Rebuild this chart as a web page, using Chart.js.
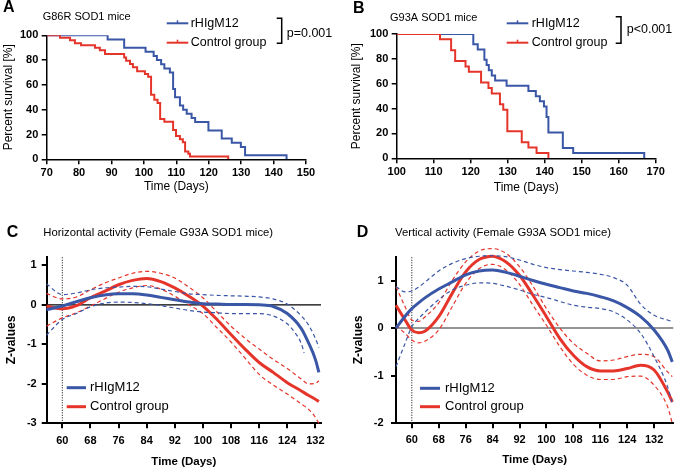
<!DOCTYPE html>
<html>
<head>
<meta charset="utf-8">
<script src="https://cdn.jsdelivr.net/npm/chart.js@4.4.1/dist/chart.umd.min.js"></script>
<style>
  html, body { margin: 0; padding: 0; background: #fff; }
  #fig { position: relative; width: 675px; height: 470px; overflow: hidden; }
  canvas { position: absolute; }
</style>
</head>
<body>
<div id="fig">
  <canvas id="chartA" width="337" height="200" style="left:0;top:0"></canvas>
  <canvas id="chartB" width="338" height="200" style="left:337px;top:0"></canvas>
  <canvas id="chartC" width="337" height="265" style="left:0;top:205px"></canvas>
  <canvas id="chartD" width="338" height="265" style="left:337px;top:205px"></canvas>
</div>
<script>
// Panel A - G86R survival (days, percent)
const aBlueDays = [70, 88.8, 93.9, 100.5, 103, 104, 105.3, 106.3, 108, 109, 109.6, 111.1, 112.1, 113.2, 114.7, 115.8, 119.9, 124, 127.1, 129.9, 131.2, 144];
const aBlueSurv = [100, 96.7, 90, 86.7, 83.3, 80, 76.7, 73.3, 70, 56.7, 50, 43.3, 40, 36.7, 33.3, 30, 23.3, 16.7, 13.3, 10, 3.3, 0];
const aRedDays = [70, 74.1, 77.2, 78.7, 80.6, 84.9, 86.4, 88, 93.9, 94.5, 95.7, 96.6, 97.9, 100.3, 101.3, 102.2, 103.2, 104.2, 105, 106.3, 109, 109.9, 111.1, 112, 112.7, 113.7, 114.2, 126];
const aRedSurv = [100, 98, 96, 93.5, 92, 90, 88, 85, 82, 79.5, 76.8, 74.2, 71, 68.8, 66.6, 52, 48, 45.5, 32.5, 30.3, 23.6, 18.8, 16.1, 13.7, 6.2, 4.5, 2.2, 0];
const aXTicks = [70, 80, 90, 100, 110, 120, 130, 140, 150];

// Panel B - G93A survival
const bBlueDays = [100, 120.7, 121.9, 123.7, 124.3, 124.9, 125.7, 126.6, 129.7, 135.6, 137.6, 138.7, 139.8, 140.5, 141, 144.9, 147.7, 166.9];
const bBlueSurv = [100, 91.7, 87.5, 79.2, 75, 70.8, 66.7, 62.5, 58.3, 54.2, 50, 45.8, 41.7, 33.3, 20.8, 8.3, 4.2, 0];
const bRedDays = [100, 111.7, 114.7, 115.8, 118.6, 119.5, 122.8, 124.8, 125.7, 127.9, 128.8, 129.9, 133.8, 135.6, 137.8, 141];
const bRedSurv = [100, 95.7, 87, 78.3, 73.9, 69.6, 60.9, 56.5, 52.2, 43.5, 39.1, 21.7, 13, 8.7, 4.3, 0];
const bXTicks = [100, 110, 120, 130, 140, 150, 160, 170];
const survTicks = [0, 20, 40, 60, 80, 100];

// Panel C - horizontal activity z-values
const cDays = [55.5, 60, 64, 68, 72, 76, 80, 84, 88, 92, 96, 100, 104, 108, 112, 116, 120, 124, 128, 130, 132, 133];
const cBlue = [-0.12, -0.03, 0.08, 0.18, 0.25, 0.28, 0.28, 0.25, 0.19, 0.13, 0.07, 0.03, 0.02, 0.01, 0.01, 0, -0.04, -0.22, -0.6, -0.95, -1.38, -1.71];
const cBlueHi = [0.53, 0.26, 0.3, 0.38, 0.43, 0.45, 0.47, 0.46, 0.4, 0.34, 0.28, 0.26, 0.24, 0.23, 0.22, 0.2, 0.15, 0.02, -0.28, -0.5, -0.85, -1.08];
const cBlueLoDays = [55.5, 60, 64, 68, 72, 76, 80, 84, 88, 92, 96, 100, 104, 108, 112, 116, 120, 124, 126, 128, 128.8];
const cBlueLo = [-0.77, -0.37, -0.22, -0.05, 0.04, 0.07, 0.06, 0.03, -0.02, -0.08, -0.14, -0.18, -0.2, -0.22, -0.22, -0.22, -0.28, -0.48, -0.68, -0.98, -1.22];
const cRed = [-0.03, -0.1, -0.02, 0.18, 0.34, 0.51, 0.62, 0.67, 0.59, 0.43, 0.22, -0.03, -0.37, -0.75, -1.12, -1.46, -1.71, -1.97, -2.18, -2.29, -2.39, -2.45];
const cRedHi = [0.29, 0.15, 0.2, 0.38, 0.55, 0.68, 0.8, 0.85, 0.8, 0.68, 0.45, 0.18, -0.18, -0.54, -0.85, -1.12, -1.38, -1.61, -1.88, -2.0, -1.99, -1.92];
const cRedLo = [-0.54, -0.33, -0.2, -0.03, 0.15, 0.32, 0.43, 0.49, 0.4, 0.22, 0.0, -0.22, -0.58, -0.94, -1.35, -1.76, -2.03, -2.26, -2.51, -2.64, -2.85, -3.0];
const cYTicks = [-3, -2, -1, 0, 1];

// Panel D - vertical activity z-values
const dDays = [55.3, 58, 60, 62, 64, 68, 72, 76, 80, 84, 88, 92, 96, 100, 104, 108, 112, 116, 120, 124, 128, 132, 136, 137.4];
const dBlue = [0, 0.25, 0.41, 0.53, 0.64, 0.82, 0.97, 1.12, 1.2, 1.22, 1.17, 1.09, 1.0, 0.92, 0.85, 0.78, 0.73, 0.66, 0.57, 0.43, 0.24, -0.04, -0.46, -0.71];
const dBlueHi = [0.87, 0.76, 0.78, 0.86, 0.97, 1.2, 1.36, 1.46, 1.51, 1.52, 1.5, 1.43, 1.34, 1.27, 1.23, 1.2, 1.17, 1.13, 1.06, 0.9, 0.5, 0.27, 0.17, 0.14];
const dBlueLo = [-0.81, -0.32, 0.03, 0.2, 0.34, 0.6, 0.8, 0.9, 0.95, 0.94, 0.88, 0.8, 0.71, 0.64, 0.56, 0.48, 0.44, 0.41, 0.34, 0.17, -0.11, -0.6, -1.23, -1.58];
const dRed = [0.48, 0.17, -0.04, -0.1, -0.06, 0.24, 0.73, 1.18, 1.44, 1.51, 1.39, 1.11, 0.69, 0.24, -0.22, -0.57, -0.81, -0.9, -0.9, -0.85, -0.78, -0.88, -1.34, -1.55];
const dRedHi = [0.87, 0.45, 0.17, 0.14, 0.24, 0.53, 1.0, 1.39, 1.62, 1.67, 1.57, 1.29, 0.88, 0.41, 0.0, -0.32, -0.53, -0.69, -0.67, -0.6, -0.55, -0.6, -0.92, -1.02];
const dRedLo = [0.06, -0.11, -0.25, -0.31, -0.27, -0.04, 0.45, 0.94, 1.25, 1.34, 1.22, 0.92, 0.48, 0.06, -0.39, -0.76, -0.99, -1.08, -1.08, -1.02, -1.01, -1.2, -1.65, -2.0];
const dYTicks = [-2, -1, 0, 1];

const zXTicks = [60, 68, 76, 84, 92, 100, 108, 116, 124, 132];

const FONT = '"Liberation Sans", Arial, Helvetica, sans-serif';
const BLUE = '#3a56a6';
const RED = '#e5352b';

function pts(xs, ys) {
    return xs.map((d, i) => ({ x: d, y: ys[i] }));
}

function km(label, xs, ys, color) {
    return { label, data: pts(xs, ys), borderColor: color, borderWidth: 2, stepped: true, pointRadius: 0, fill: false };
}

function curve(label, xs, ys, color, dashed) {
    return {
        label, data: pts(xs, ys), borderColor: color,
        borderWidth: dashed ? 1.2 : 3, borderDash: dashed ? [4, 3] : [],
        pointRadius: 0, fill: false, cubicInterpolationMode: 'monotone', clip: false
    };
}

// fixed-size linear axis with explicit ticks
function axis(o) {
    return {
        type: 'linear', min: o.min, max: o.max, bounds: 'data',
        afterBuildTicks: s => { s.ticks = o.ticks.map(v => ({ value: v })); },
        afterFit: s => { if (o.width != null) s.width = o.width; if (o.height != null) s.height = o.height; },
        border: { display: true, color: '#000', width: o.bw },
        grid: { drawOnChartArea: false, drawTicks: true, tickLength: 5, color: '#000', lineWidth: o.bw },
        ticks: { color: '#000', padding: o.tickPad, autoSkip: false, maxRotation: 0,
                 font: { family: FONT, size: 11, weight: 'bold' } },
        title: { display: true, text: o.title, color: '#000', padding: o.titlePad,
                 font: { family: FONT, size: o.titleSize, weight: o.titleWeight } }
    };
}

// draws reference lines, legends, labels
function makeDecor(cfg) {
    return {
        id: 'decor',
        beforeDatasetsDraw(chart) {
            const { ctx, chartArea: a, scales: { x, y } } = chart;
            ctx.save();
            if (cfg.zero) {
                const py = y.getPixelForValue(0);
                ctx.strokeStyle = cfg.zero.color;
                ctx.lineWidth = cfg.zero.width;
                ctx.beginPath(); ctx.moveTo(a.left, py); ctx.lineTo(a.right, py); ctx.stroke();
            }
            if (cfg.vline != null) {
                const px = x.getPixelForValue(cfg.vline);
                ctx.strokeStyle = '#000';
                ctx.lineWidth = 1;
                ctx.setLineDash([1, 1.5]);
                ctx.beginPath(); ctx.moveTo(px, a.bottom); ctx.lineTo(px, a.top); ctx.stroke();
            }
            ctx.restore();
        },
        afterDraw(chart) {
            const ctx = chart.ctx;
            ctx.save();
            (cfg.segs || []).forEach(s => {
                ctx.strokeStyle = s.color;
                ctx.lineWidth = s.width;
                ctx.beginPath();
                s.pts.forEach((p, i) => i ? ctx.lineTo(p[0], p[1]) : ctx.moveTo(p[0], p[1]));
                ctx.stroke();
            });
            ctx.textBaseline = 'middle';
            ctx.fillStyle = '#000';
            (cfg.texts || []).forEach(t => {
                ctx.font = t.font;
                ctx.textAlign = t.align || 'left';
                ctx.fillText(t.text, t.x, t.y);
            });
            ctx.restore();
        }
    };
}

function baseOptions(pad, scales) {
    return {
        responsive: false, animation: false,
        layout: { padding: pad },
        plugins: { legend: { display: false }, tooltip: { enabled: false } },
        scales
    };
}

const letterFont = 'bold 16px ' + FONT;
const legFont = '12.5px ' + FONT;
const titleFont = '11px ' + FONT;

// km legend line with a small censor tick
function kmLegend(x0, x1, y, color) {
    const m = (x0 + x1) / 2;
    return [
        { pts: [[x0, y], [x1, y]], color, width: 2 },
        { pts: [[m, y], [m, y - 3]], color, width: 1.5 }
    ];
}

// A
new Chart(document.getElementById('chartA'), {
    type: 'line',
    data: { datasets: [
        km('Control group', aRedDays, aRedSurv, RED),
        km('rHIgM12', aBlueDays, aBlueSurv, BLUE)
    ] },
    options: baseOptions({ left: 0, top: 35.3, right: 31, bottom: 0 }, {
        x: axis({ min: 70, max: 150, ticks: aXTicks, height: 40.7, bw: 1.5, tickPad: 2,
                  title: 'Time (Days)', titleSize: 12, titleWeight: 'normal', titlePad: { top: 0, bottom: 6 } }),
        y: axis({ min: 0, max: 100, ticks: survTicks, width: 46.7, bw: 1.5, tickPad: 3.4,
                  title: 'Percent survival [%]', titleSize: 12, titleWeight: 'normal', titlePad: { top: 1, bottom: 0 } })
    }),
    plugins: [makeDecor({
        segs: [
            ...kmLegend(166.7, 188.3, 23.3, BLUE),
            ...kmLegend(166.7, 188.3, 42.7, RED),
            { pts: [[276.7, 18.3], [281.7, 18.3], [281.7, 43.3], [276.7, 43.3]], color: '#000', width: 1.5 }
        ],
        texts: [
            { text: 'A', x: 3, y: 7.5, font: letterFont },
            { text: 'G86R SOD1 mice', x: 42.7, y: 17.3, font: titleFont },
            { text: 'rHIgM12', x: 190.7, y: 23.3, font: legFont },
            { text: 'Control group', x: 190.7, y: 42.7, font: legFont },
            { text: 'p=0.001', x: 286.7, y: 33.3, font: legFont }
        ]
    })]
});

// B
new Chart(document.getElementById('chartB'), {
    type: 'line',
    data: { datasets: [
        km('Control group', bRedDays, bRedSurv, RED),
        km('rHIgM12', bBlueDays, bBlueSurv, BLUE)
    ] },
    options: baseOptions({ left: 0, top: 34, right: 19.3, bottom: 0 }, {
        x: axis({ min: 100, max: 170, ticks: bXTicks, height: 41.7, bw: 1.5, tickPad: 2,
                  title: 'Time (Days)', titleSize: 12, titleWeight: 'normal', titlePad: { top: 0, bottom: 5.5 } }),
        y: axis({ min: 0, max: 100, ticks: survTicks, width: 59.7, bw: 1.5, tickPad: 3.4,
                  title: 'Percent survival [%]', titleSize: 12, titleWeight: 'normal', titlePad: { top: 12.5, bottom: 0 } })
    }),
    plugins: [makeDecor({
        segs: [
            ...kmLegend(169.7, 191.3, 23.3, BLUE),
            ...kmLegend(169.7, 191.3, 42.7, RED),
            { pts: [[278.7, 16.7], [284, 16.7], [284, 43.3], [278.7, 43.3]], color: '#000', width: 1.5 }
        ],
        texts: [
            { text: 'B', x: 16, y: 8.3, font: letterFont },
            { text: 'G93A SOD1 mice', x: 53, y: 18.3, font: titleFont },
            { text: 'rHIgM12', x: 194.7, y: 23.3, font: legFont },
            { text: 'Control group', x: 194.7, y: 42.7, font: legFont },
            { text: 'p<0.001', x: 289.7, y: 30, font: legFont }
        ]
    })]
});

// C
new Chart(document.getElementById('chartC'), {
    type: 'line',
    data: { datasets: [
        curve('rHIgM12', cDays, cBlue, BLUE, false),
        curve('rHIgM12 upper', cDays, cBlueHi, BLUE, true),
        curve('rHIgM12 lower', cBlueLoDays, cBlueLo, BLUE, true),
        curve('Control group', cDays, cRed, RED, false),
        curve('Control upper', cDays, cRedHi, RED, true),
        curve('Control lower', cDays, cRedLo, RED, true)
    ] },
    options: baseOptions({ left: 0, top: 51.7, right: 16, bottom: 0 }, {
        x: axis({ min: 55.56, max: 133.6, ticks: zXTicks, height: 46.7, bw: 2, tickPad: 6,
                  title: 'Time (Days)', titleSize: 11.5, titleWeight: 'bold', titlePad: { top: 0, bottom: 1.4 } }),
        y: axis({ min: -3, max: 1.22, ticks: cYTicks, width: 46.7, bw: 2, tickPad: 5,
                  title: 'Z-values', titleSize: 12, titleWeight: 'bold', titlePad: { top: 4.5, bottom: 0 } })
    }),
    plugins: [makeDecor({
        zero: { color: '#000', width: 1.2 },
        vline: 60,
        segs: [
            { pts: [[66.7, 182.7], [86, 182.7]], color: BLUE, width: 3 },
            { pts: [[66.7, 201.7], [86, 201.7]], color: RED, width: 3 }
        ],
        texts: [
            { text: 'C', x: 6.7, y: 28, font: letterFont },
            { text: 'Horizontal activity (Female G93A SOD1 mice)', x: 43.3, y: 28.3, font: '11.3px ' + FONT },
            { text: 'rHIgM12', x: 90, y: 182.7, font: '13px ' + FONT },
            { text: 'Control group', x: 90, y: 201.7, font: '13px ' + FONT }
        ]
    })]
});

// D
new Chart(document.getElementById('chartD'), {
    type: 'line',
    data: { datasets: [
        curve('rHIgM12', dDays, dBlue, BLUE, false),
        curve('rHIgM12 upper', dDays, dBlueHi, BLUE, true),
        curve('rHIgM12 lower', dDays, dBlueLo, BLUE, true),
        curve('Control group', dDays, dRed, RED, false),
        curve('Control upper', dDays, dRedHi, RED, true),
        curve('Control lower', dDays, dRedLo, RED, true)
    ] },
    options: baseOptions({ left: 0, top: 51.7, right: 1.7, bottom: 0 }, {
        x: axis({ min: 55.3, max: 137.7, ticks: zXTicks, height: 46.7, bw: 2, tickPad: 5,
                  title: 'Time (Days)', titleSize: 11.5, titleWeight: 'bold', titlePad: { top: 0, bottom: 3 } }),
        y: axis({ min: -2, max: 1.5, ticks: dYTicks, width: 59, bw: 2, tickPad: 7.5,
                  title: 'Z-values', titleSize: 12, titleWeight: 'bold', titlePad: { top: 14, bottom: 0 } })
    }),
    plugins: [makeDecor({
        zero: { color: '#707070', width: 1.5 },
        vline: 60,
        segs: [
            { pts: [[83, 183.3], [103, 183.3]], color: BLUE, width: 3 },
            { pts: [[83, 201.7], [103, 201.7]], color: RED, width: 3 }
        ],
        texts: [
            { text: 'D', x: 19.7, y: 27.5, font: letterFont },
            { text: 'Vertical activity (Female G93A SOD1 mice)', x: 58, y: 28.3, font: '11.3px ' + FONT },
            { text: 'rHIgM12', x: 108, y: 183.3, font: '13px ' + FONT },
            { text: 'Control group', x: 108, y: 201.7, font: '13px ' + FONT }
        ]
    })]
});
</script>
</body>
</html>
